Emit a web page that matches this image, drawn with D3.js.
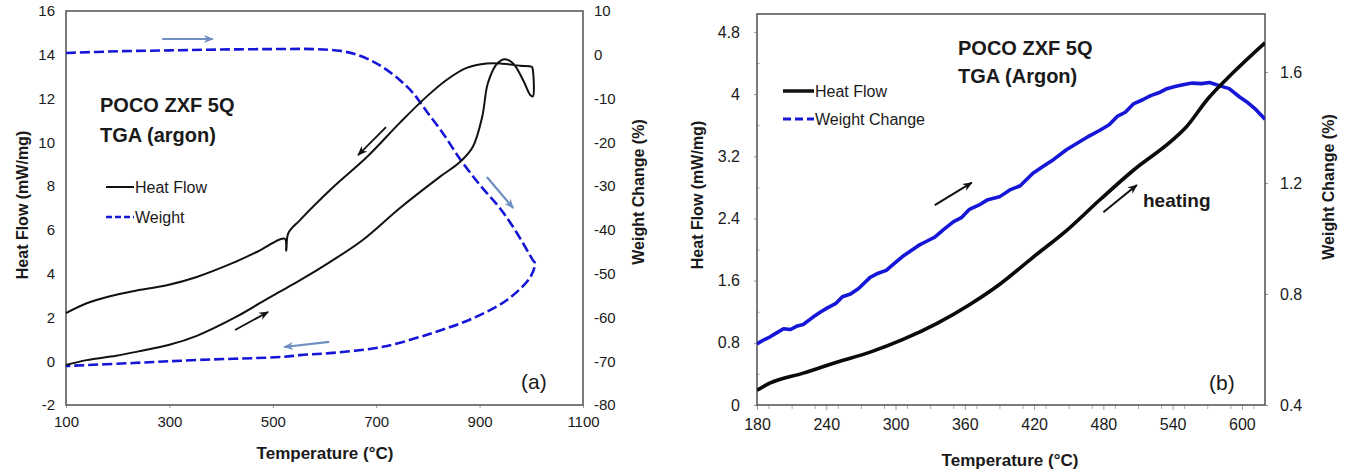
<!DOCTYPE html>
<html><head><meta charset="utf-8">
<script src="https://cdn.jsdelivr.net/npm/d3@7"></script>
<style>
body{margin:0;background:#fff;}
text{font-family:"Liberation Sans",Arial,sans-serif;fill:#1a1a1a;}
</style></head>
<body><svg id="c" width="1350" height="475"></svg>
<script>
// ---------- Panel (a) data ----------
const aXTicks = [100,300,500,700,900,1100];
const aYTicks = [-2,0,2,4,6,8,10,12,14,16];
const aY2Ticks = [10,0,-10,-20,-30,-40,-50,-60,-70,-80];
// heat flow: heating then loop then cooling (one continuous trace)
const aHeatT = [100,140,197,240,300,353,427,500,553,611,674,746,823,862,887,905,916,934,949,965,985,998,1003,1003,1001,978,940,914,875,836,798,746,682,617,553,530,526,523,470,423,353,295,230,185,140,100];
const aHeatV = [-0.17,0.05,0.25,0.45,0.75,1.16,2.0,3.0,3.7,4.54,5.54,7.0,8.42,9.1,9.8,11.16,12.7,13.6,13.8,13.6,12.8,12.16,12.1,13.3,13.45,13.5,13.6,13.6,13.4,12.85,12.1,10.9,9.33,7.96,6.46,5.85,5.05,5.6,5.0,4.49,3.85,3.47,3.2,2.97,2.65,2.2];
// weight change (%): heating then cooling
const aWtT = [100,200,300,400,500,580,630,660,690,715,746,771,798,829,862,901,939,970,1003,1007,998,953,887,810,713,616,553,520,359,230,100];
const aWtV = [0.4,0.8,1.0,1.2,1.3,1.3,0.9,0.1,-1.3,-3.0,-5.8,-8.7,-13.0,-17.9,-23.8,-29.8,-35.0,-40.3,-46.9,-47.6,-50.8,-56,-60.2,-63.5,-66.7,-68.1,-68.6,-69,-69.7,-70.4,-71.1];

// ---------- Panel (b) data ----------
const bXTicks = [180,240,300,360,420,480,540,600];
const bYTicks = [0,0.8,1.6,2.4,3.2,4,4.8];
const bY2Ticks = [0.4,0.8,1.2,1.6];
const bHeatT = [180,191,220,249,278,306,336,364,390,419,447,477,506,540,552,570,592,620];
const bHeatV = [0.19,0.28,0.41,0.55,0.68,0.84,1.05,1.29,1.55,1.9,2.23,2.64,3.02,3.41,3.58,3.93,4.27,4.66];
const bWtT = [180,186,191,197,203,209,215,220,228,235,241,248,254,261,268,278,285,292,299,306,313,320,327,334,341,350,357,364,372,380,390,399,408,419,428,437,448,458,468,477,485,492,499,506,514,521,528,535,542,550,557,565,572,581,589,598,605,612,620];
const bWtV = [0.62,0.635,0.645,0.66,0.675,0.672,0.685,0.69,0.715,0.735,0.75,0.765,0.79,0.80,0.82,0.86,0.875,0.885,0.91,0.935,0.955,0.975,0.99,1.005,1.03,1.06,1.075,1.105,1.12,1.14,1.15,1.175,1.19,1.235,1.26,1.285,1.32,1.345,1.37,1.39,1.41,1.44,1.455,1.485,1.50,1.515,1.525,1.54,1.548,1.555,1.56,1.558,1.562,1.55,1.54,1.51,1.49,1.465,1.43];

// ---------- drawing ----------
const svg = d3.select("#c");
svg.append("rect").attr("width",1350).attr("height",475).attr("fill","#fff");
const defs = svg.append("defs");
function marker(id,color){
  defs.append("marker").attr("id",id).attr("viewBox","0 0 10 10").attr("refX",9).attr("refY",5)
    .attr("markerWidth",10).attr("markerHeight",10).attr("markerUnits","userSpaceOnUse").attr("orient","auto")
    .append("path").attr("d","M0,1 L10,5 L0,9 L3,5 Z").attr("fill",color);
}
marker("ab","#111"); marker("ag","#6f8fc2");

const BLUE = "#1616d8";
const FRAME = "#5a5a5a";
const plain = d=>String(d);

function arrow(g, x1,y1,x2,y2,color,id,w){
  g.append("line").attr("x1",x1).attr("y1",y1).attr("x2",x2).attr("y2",y2)
    .attr("stroke",color).attr("stroke-width",w).attr("marker-end",`url(#${id})`);
}

// ===== Panel (a) =====
const xA = d3.scaleLinear().domain([100,1100]).range([66,583]);
const yA = d3.scaleLinear().domain([-2,16]).range([405,11]);
const yA2 = d3.scaleLinear().domain([-80,10]).range([405,11]);
const gA = svg.append("g");

const axA = gA.append("g").attr("transform","translate(0,405)")
  .call(d3.axisBottom(xA).tickValues(aXTicks).tickSize(3).tickPadding(8).tickFormat(plain));
const ayA = gA.append("g").attr("transform","translate(66,0)")
  .call(d3.axisLeft(yA).tickValues(aYTicks).tickSize(0).tickPadding(11).tickFormat(plain));
const ay2A = gA.append("g").attr("transform","translate(583,0)")
  .call(d3.axisRight(yA2).tickValues(aY2Ticks).tickSize(0).tickPadding(11).tickFormat(plain));
[axA,ayA,ay2A].forEach(a=>{a.select(".domain").remove();a.selectAll("line").attr("stroke","#999");
  a.selectAll("text").attr("font-size",15).attr("font-family","Liberation Sans, Arial").attr("fill","#222");});
gA.append("rect").attr("x",66).attr("y",11).attr("width",517).attr("height",394)
  .attr("fill","none").attr("stroke",FRAME).attr("stroke-width",1.6);

const lineA = d3.line().curve(d3.curveCatmullRom.alpha(0.5));
gA.append("path").attr("d",lineA(aWtT.map((t,i)=>[xA(t),yA2(aWtV[i])])))
  .attr("fill","none").attr("stroke",BLUE).attr("stroke-width",2.6).attr("stroke-dasharray","10,4");
gA.append("path").attr("d",lineA(aHeatT.map((t,i)=>[xA(t),yA(aHeatV[i])])))
  .attr("fill","none").attr("stroke","#111").attr("stroke-width",2);

// arrows (data coords)
arrow(gA, xA(286),yA(14.72), xA(384),yA(14.72), "#6f8fc2","ag",2.2);
arrow(gA, xA(914),yA(8.42), xA(965),yA(7.0), "#6f8fc2","ag",2.2);
arrow(gA, xA(609),yA(0.88), xA(522),yA(0.65), "#6f8fc2","ag",2.2);
arrow(gA, xA(719),yA(10.7), xA(665),yA(9.42), "#111","ab",1.8);
arrow(gA, xA(427),yA(1.43), xA(491),yA(2.25), "#111","ab",1.8);

gA.append("text").attr("x",100).attr("y",112).attr("font-size",20).attr("font-weight","bold").text("POCO ZXF 5Q");
gA.append("text").attr("x",100).attr("y",142).attr("font-size",20).attr("font-weight","bold").text("TGA (argon)");
gA.append("line").attr("x1",106).attr("x2",134).attr("y1",187).attr("y2",187).attr("stroke","#111").attr("stroke-width",2);
gA.append("text").attr("x",135).attr("y",193).attr("font-size",16).text("Heat Flow");
gA.append("line").attr("x1",106).attr("x2",134).attr("y1",217).attr("y2",217).attr("stroke",BLUE).attr("stroke-width",2.4).attr("stroke-dasharray","6,3");
gA.append("text").attr("x",135).attr("y",223).attr("font-size",16).text("Weight");
gA.append("text").attr("x",521).attr("y",389).attr("font-size",21).text("(a)");
gA.append("text").attr("x",325).attr("y",459).attr("text-anchor","middle").attr("font-size",17).attr("font-weight","bold").text("Temperature (°C)");
gA.append("text").attr("transform","translate(28,205) rotate(-90)").attr("text-anchor","middle").attr("font-size",16).attr("font-weight","bold").text("Heat Flow (mW/mg)");
gA.append("text").attr("transform","translate(644,192) rotate(-90)").attr("text-anchor","middle").attr("font-size",16).attr("font-weight","bold").text("Weight Change (%)");

// ===== Panel (b) =====
const xB = d3.scaleLinear().domain([180,620]).range([757,1265]);
const yB = d3.scaleLinear().domain([0,5.03]).range([405,14]);
const yB2 = d3.scaleLinear().domain([0.4,1.809]).range([405,14]);
const gB = svg.append("g");

// minor ticks
gB.append("g").attr("transform","translate(0,405)")
  .call(d3.axisBottom(xB).tickValues(d3.range(190,620,20)).tickSize(4).tickFormat(""))
  .call(a=>{a.select(".domain").remove();a.selectAll("line").attr("stroke","#aaa");});
gB.append("g").attr("transform","translate(757,0)")
  .call(d3.axisRight(yB).tickValues(d3.range(0.4,5.0,0.8)).tickSize(3).tickFormat(""))
  .call(a=>{a.select(".domain").remove();a.selectAll("line").attr("stroke","#bbb");});

const axB = gB.append("g").attr("transform","translate(0,405)")
  .call(d3.axisBottom(xB).tickValues(bXTicks).tickSize(5).tickPadding(9).tickFormat(plain));
const ayB = gB.append("g").attr("transform","translate(757,0)")
  .call(d3.axisLeft(yB).tickValues(bYTicks).tickSize(3).tickPadding(14).tickFormat(d=>String(+d.toFixed(1))));
const ay2B = gB.append("g").attr("transform","translate(1265,0)")
  .call(d3.axisRight(yB2).tickValues(bY2Ticks).tickSize(3).tickPadding(12).tickFormat(d=>d.toFixed(1)));
[axB,ayB,ay2B].forEach(a=>{a.select(".domain").remove();a.selectAll("line").attr("stroke","#999");
  a.selectAll("text").attr("font-size",16).attr("font-family","Liberation Sans, Arial").attr("fill","#222");});
gB.append("rect").attr("x",757).attr("y",14).attr("width",508).attr("height",391)
  .attr("fill","none").attr("stroke",FRAME).attr("stroke-width",1.6);

defs.append("clipPath").attr("id","cb").append("rect").attr("x",757).attr("y",14).attr("width",508).attr("height",391);
const lineB = d3.line().curve(d3.curveLinear);
gB.append("path").attr("clip-path","url(#cb)").attr("d",lineB(bWtT.map((t,i)=>[xB(t),yB2(bWtV[i])])))
  .attr("fill","none").attr("stroke",BLUE).attr("stroke-width",3.6).attr("stroke-linejoin","round");
gB.append("path").attr("clip-path","url(#cb)").attr("d",d3.line().curve(d3.curveMonotoneX)(bHeatT.map((t,i)=>[xB(t),yB(bHeatV[i])])))
  .attr("fill","none").attr("stroke","#0a0a0a").attr("stroke-width",3.6);

arrow(gB, xB(334),yB(2.57), xB(366),yB(2.86), "#111","ab",2);
arrow(gB, xB(480),yB(2.48), xB(509),yB(2.83), "#111","ab",2);

gB.append("text").attr("x",958).attr("y",55).attr("font-size",20).attr("font-weight","bold").text("POCO ZXF 5Q");
gB.append("text").attr("x",958).attr("y",83).attr("font-size",20).attr("font-weight","bold").text("TGA (Argon)");
gB.append("line").attr("x1",783).attr("x2",814).attr("y1",91).attr("y2",91).attr("stroke","#111").attr("stroke-width",3.5);
gB.append("text").attr("x",815).attr("y",97).attr("font-size",16).text("Heat Flow");
gB.append("line").attr("x1",783).attr("x2",814).attr("y1",119).attr("y2",119).attr("stroke",BLUE).attr("stroke-width",3.2).attr("stroke-dasharray","8,4");
gB.append("text").attr("x",815).attr("y",125).attr("font-size",16).text("Weight Change");
gB.append("text").attr("x",1143).attr("y",207).attr("font-size",19).attr("font-weight","bold").text("heating");
gB.append("text").attr("x",1209).attr("y",390).attr("font-size",21).text("(b)");
gB.append("text").attr("x",1010).attr("y",466).attr("text-anchor","middle").attr("font-size",17).attr("font-weight","bold").text("Temperature (°C)");
gB.append("text").attr("transform","translate(703,195) rotate(-90)").attr("text-anchor","middle").attr("font-size",16).attr("font-weight","bold").text("Heat Flow (mW/mg)");
gB.append("text").attr("transform","translate(1334,187) rotate(-90)").attr("text-anchor","middle").attr("font-size",16).attr("font-weight","bold").text("Weight Change (%)");
</script></body></html>
